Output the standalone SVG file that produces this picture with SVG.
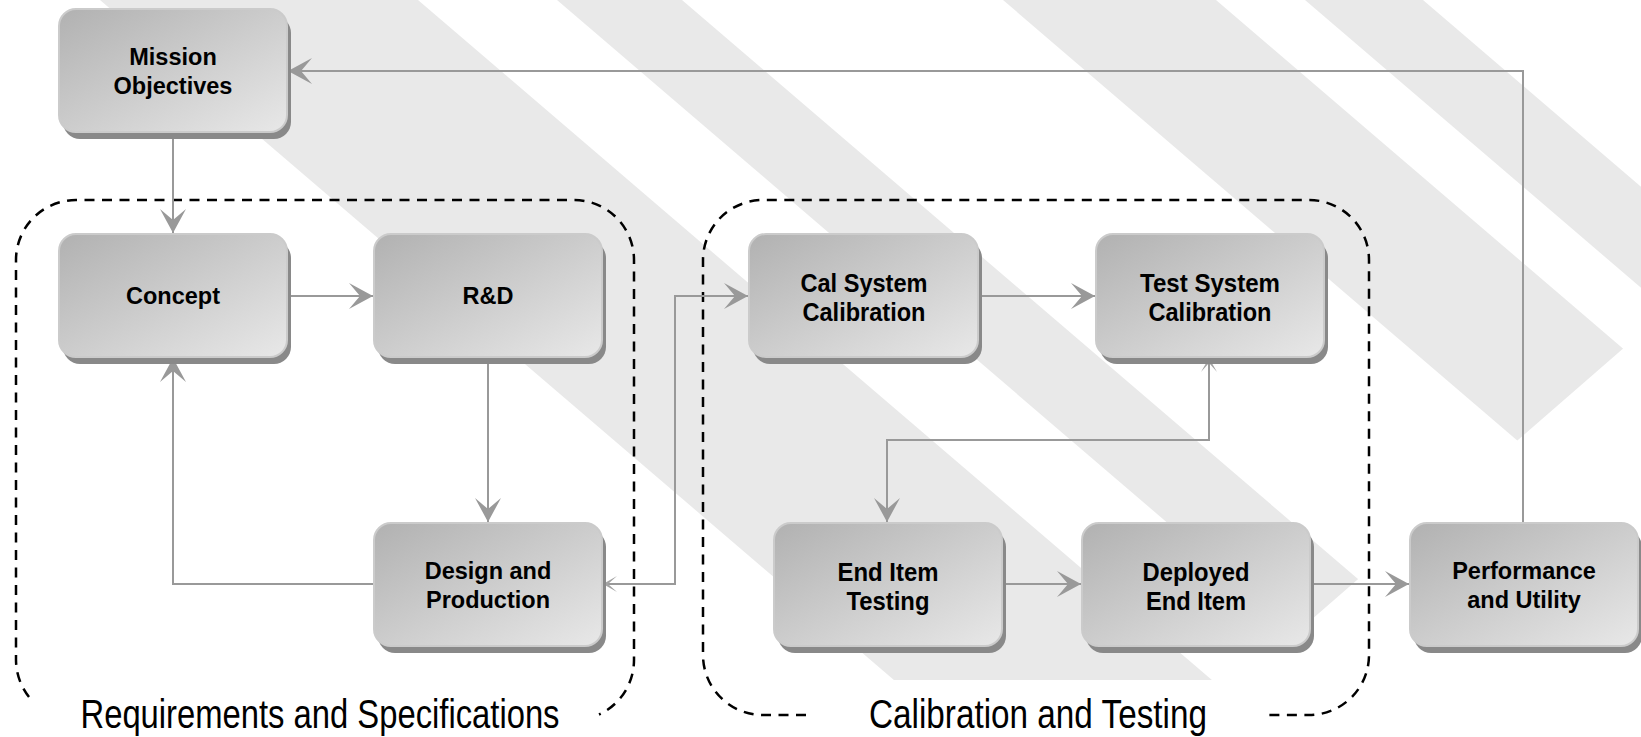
<svg xmlns="http://www.w3.org/2000/svg" width="1641" height="737" viewBox="0 0 1641 737">
  <defs>
    <linearGradient id="boxFill" x1="0" y1="0" x2="1" y2="1">
      <stop offset="0" stop-color="#b1b1b1"/>
      <stop offset="1" stop-color="#e8e8e8"/>
    </linearGradient>
    <clipPath id="bandClip">
      <polygon points="0,0 1641,0 1641,333 1242,680 0,680"/>
    </clipPath>
    <marker id="head" markerUnits="userSpaceOnUse" markerWidth="30" markerHeight="30" viewBox="-26 -15 28 30" refX="0" refY="0" orient="auto">
      <path d="M0,0 L-24,-13 L-13,0 L-24,13 Z" fill="#999"/>
    </marker>
    <marker id="tail" markerUnits="userSpaceOnUse" markerWidth="20" markerHeight="20" viewBox="-16 -10 18 20" refX="0" refY="0" orient="auto-start-reverse">
      <path d="M0,0 L-14,-8 L-5,0 L-14,8 Z" fill="#a3a3a3"/>
    </marker>
    <style>
      .band { fill: #e9e9e9; }
      .shadow { fill: #898989; }
      .box { fill: url(#boxFill); stroke: #cbcbcb; stroke-width: 2; }
      .lbl { font-family: "Liberation Sans", Arial, sans-serif; font-weight: bold; font-size: 23.5px; fill: #000; text-anchor: middle; }
      .nlbl { font-family: "Liberation Sans Narrow", "Arial Narrow", "Liberation Sans", sans-serif; font-weight: bold; font-size: 26px; fill: #000; text-anchor: middle; }
      .region { fill: none; stroke: #000; stroke-width: 2.5; stroke-dasharray: 10 7.5; }
      .title { font-family: "Liberation Sans Narrow", "Arial Narrow", "Liberation Sans", sans-serif; font-size: 40px; fill: #000; text-anchor: middle; }
      .conn { fill: none; stroke: #999; stroke-width: 2; }
    </style>
  </defs>

  <rect width="1641" height="737" fill="#fff"/>

  <!-- diagonal background bands -->
  <g id="background" clip-path="url(#bandClip)">
    <polygon class="band" points="100,0 418,0 1352,800 1034,800"/>
    <polygon class="band" points="557,0 682,0 1616,800 1491,800"/>
    <polygon class="band" points="1003,0 1216,0 2150,800 1937,800"/>
    <polygon class="band" points="1305,0 1423,0 2357,800 2239,800"/>
  </g>

  <!-- grouping outlines -->
  <g id="regions">
    <path class="region" d="M29,697 A60,60 0 0 1 16,660 V260 A60,60 0 0 1 76,200 H574 A60,60 0 0 1 634,260 V660 A60,60 0 0 1 599,714.5"/>
    <path class="region" d="M806,715 H763 A60,60 0 0 1 703,655 V260 A60,60 0 0 1 763,200 H1309 A60,60 0 0 1 1369,260 V655 A60,60 0 0 1 1309,715 H1266"/>
    <text class="title" x="320" y="728" textLength="479" lengthAdjust="spacingAndGlyphs">Requirements and Specifications</text>
    <text class="title" x="1038" y="728" textLength="338" lengthAdjust="spacingAndGlyphs">Calibration and Testing</text>
  </g>

  <!-- connectors -->
  <g id="connectors">
    <path class="conn" d="M173,132 V233" marker-end="url(#head)"/>
    <path class="conn" d="M1523,523 V71 H288" marker-end="url(#head)"/>
    <path class="conn" d="M287,296 H373" marker-end="url(#head)"/>
    <path class="conn" d="M488,357 V522" marker-end="url(#head)"/>
    <path class="conn" d="M374,584 H173 V358" marker-end="url(#head)"/>
    <path class="conn" d="M603,584 H675 V296 H748" marker-start="url(#tail)" marker-end="url(#head)"/>
    <path class="conn" d="M978,296 H1095" marker-end="url(#head)"/>
    <path class="conn" d="M1209,358 V440 H887 V522" marker-start="url(#tail)" marker-end="url(#head)"/>
    <path class="conn" d="M1003,584 H1081" marker-end="url(#head)"/>
    <path class="conn" d="M1310,584 H1409" marker-end="url(#head)"/>
  </g>

  <!-- nodes -->
  <g id="mission">
    <rect class="shadow" x="63" y="16" width="228" height="123" rx="17"/>
    <rect class="box" x="59" y="9" width="228" height="123" rx="17"/>
    <text class="lbl" x="173" y="65">Mission</text>
    <text class="lbl" x="173" y="94">Objectives</text>
  </g>
  <g id="concept">
    <rect class="shadow" x="63" y="241" width="228" height="123" rx="17"/>
    <rect class="box" x="59" y="234" width="228" height="123" rx="17"/>
    <text class="lbl" x="173" y="304">Concept</text>
  </g>
  <g id="rnd">
    <rect class="shadow" x="378" y="241" width="228" height="123" rx="17"/>
    <rect class="box" x="374" y="234" width="228" height="123" rx="17"/>
    <text class="lbl" x="488" y="304">R&amp;D</text>
  </g>
  <g id="design">
    <rect class="shadow" x="378" y="530" width="228" height="123" rx="17"/>
    <rect class="box" x="374" y="523" width="228" height="123" rx="17"/>
    <text class="lbl" x="488" y="579">Design and</text>
    <text class="lbl" x="488" y="608">Production</text>
  </g>
  <g id="cal-system">
    <rect class="shadow" x="753" y="241" width="229" height="123" rx="17"/>
    <rect class="box" x="749" y="234" width="229" height="123" rx="17"/>
    <text class="nlbl" x="864" y="292" textLength="127" lengthAdjust="spacingAndGlyphs">Cal System</text>
    <text class="nlbl" x="864" y="321" textLength="123" lengthAdjust="spacingAndGlyphs">Calibration</text>
  </g>
  <g id="test-system">
    <rect class="shadow" x="1100" y="241" width="228" height="123" rx="17"/>
    <rect class="box" x="1096" y="234" width="228" height="123" rx="17"/>
    <text class="nlbl" x="1210" y="292" textLength="140" lengthAdjust="spacingAndGlyphs">Test System</text>
    <text class="nlbl" x="1210" y="321" textLength="123" lengthAdjust="spacingAndGlyphs">Calibration</text>
  </g>
  <g id="end-item-testing">
    <rect class="shadow" x="778" y="530" width="228" height="123" rx="17"/>
    <rect class="box" x="774" y="523" width="228" height="123" rx="17"/>
    <text class="nlbl" x="888" y="581" textLength="101" lengthAdjust="spacingAndGlyphs">End Item</text>
    <text class="nlbl" x="888" y="610" textLength="83" lengthAdjust="spacingAndGlyphs">Testing</text>
  </g>
  <g id="deployed">
    <rect class="shadow" x="1086" y="530" width="228" height="123" rx="17"/>
    <rect class="box" x="1082" y="523" width="228" height="123" rx="17"/>
    <text class="nlbl" x="1196" y="581" textLength="107" lengthAdjust="spacingAndGlyphs">Deployed</text>
    <text class="nlbl" x="1196" y="610" textLength="100" lengthAdjust="spacingAndGlyphs">End Item</text>
  </g>
  <g id="performance">
    <rect class="shadow" x="1414" y="530" width="228" height="123" rx="17"/>
    <rect class="box" x="1410" y="523" width="228" height="123" rx="17"/>
    <text class="lbl" x="1524" y="579">Performance</text>
    <text class="lbl" x="1524" y="608">and Utility</text>
  </g>
</svg>
